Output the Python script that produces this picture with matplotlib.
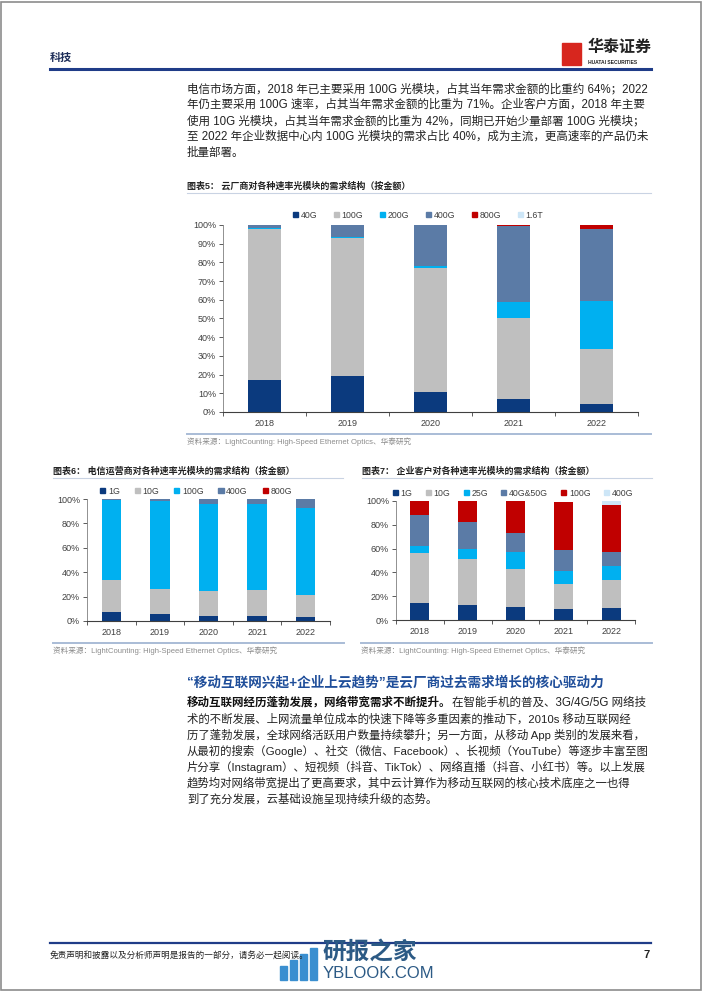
import numpy as np
import matplotlib
matplotlib.use("Agg")
import matplotlib.pyplot as plt
from matplotlib.patches import Patch, Rectangle

plt.rcParams['font.family'] = ['Liberation Sans', 'Noto Sans CJK SC', 'DejaVu Sans']

W, H = 702, 991
years = ['2018', '2019', '2020', '2021', '2022']

# chart 5: cloud vendors
cloud_labels = ['40G', '100G', '200G', '400G', '800G', '1.6T']
cloud_40g = [17, 19, 10.5, 7, 4.5]
cloud_100g = [81, 74, 66.5, 43.5, 29]
cloud_200g = [0.3, 0.5, 1, 8.5, 26]
cloud_400g = [1.7, 6.5, 22, 40.5, 38.5]
cloud_800g = [0, 0, 0, 0.5, 2]
cloud_16t = [0, 0, 0, 0, 0]

# chart 6: telecom operators
tel_labels = ['1G', '10G', '100G', '400G', '800G']
tel_1g = [7.5, 5.5, 3.8, 3.8, 3.5]
tel_10g = [26.5, 20.5, 21.2, 21.7, 18]
tel_100g = [65, 72, 71, 70.5, 71.5]
tel_400g = [1, 2, 4, 4, 7]
tel_800g = [0, 0, 0, 0, 0]

# chart 7: enterprise customers
ent_labels = ['1G', '10G', '25G', '40G&50G', '100G', '400G']
ent_1g = [14, 12.5, 11, 9, 10]
ent_10g = [42.5, 38.5, 31.5, 21.5, 23.5]
ent_25g = [6, 9, 15, 10.5, 12]
ent_40g50g = [26, 22.5, 16, 17.5, 11.5]
ent_100g = [11.5, 17.5, 26.5, 40.5, 40]
ent_400g = [0, 0, 0, 0.5, 3]

NAVY = '#0b3a7e'
GRAY = '#bfbfbf'
CYAN = '#00b0f0'
STEEL = '#5b7ba6'
RED = '#c00000'
PALE = '#cde6f7'

fig = plt.figure(figsize=(W / 100, H / 100), dpi=100)


def fx(x):
    return x / W


def fy(y):
    return 1 - y / H


def txt(x, y, s, size=8.5, **kw):
    kw.setdefault('va', 'center')
    kw.setdefault('ha', 'left')
    return fig.text(fx(x), fy(y), s, fontsize=size, **kw)


def hline(x0, x1, y, color, lw):
    fig.add_artist(plt.Line2D([fx(x0), fx(x1)], [fy(y), fy(y)], color=color, lw=lw))


def stacked(l, t, r, b, series, colors, labels, yticks, leg_x, leg_y, colsp):
    ax = fig.add_axes([fx(l), fy(b), fx(r - l), (b - t) / H])
    x = np.arange(len(years))
    bottom = np.zeros(len(years))
    for vals, c in zip(series, colors):
        ax.bar(x, vals, 0.4, bottom=bottom, color=c, linewidth=0)
        bottom += np.array(vals)
    ax.set_xlim(-0.5, len(years) - 0.5)
    ax.set_ylim(0, 100)
    ax.set_yticks(yticks)
    ax.set_yticklabels([f'{v}%' for v in yticks])
    ax.set_xticks(x)
    ax.set_xticklabels(years)
    ax.set_xticks(np.arange(-0.5, len(years)), minor=True)
    ax.tick_params(axis='x', which='major', length=0, labelsize=6.5, colors='#404040', pad=5)
    ax.tick_params(axis='x', which='minor', length=3, color='#404040', width=0.6)
    ax.tick_params(axis='y', length=3, width=0.6, labelsize=6.5, colors='#404040', pad=2)
    for s in ['top', 'right']:
        ax.spines[s].set_visible(False)
    ax.spines['left'].set_color('#7f7f7f')
    ax.spines['left'].set_linewidth(0.6)
    ax.spines['bottom'].set_color('#404040')
    ax.spines['bottom'].set_linewidth(0.8)
    ax.patch.set_alpha(0)
    handles = [Patch(color=c, label=lb) for c, lb in zip(colors, labels)]
    fig.legend(handles=handles, loc='center', bbox_to_anchor=(fx(leg_x), fy(leg_y)),
               ncol=len(labels), frameon=False, fontsize=6.3, handlelength=0.6,
               handleheight=0.6, handletextpad=0.3, columnspacing=colsp,
               labelcolor='#404040')
    return ax


# page frame
fig.add_artist(Rectangle((0.001, 0.001), 0.997, 0.997, transform=fig.transFigure,
                         fill=False, edgecolor='#8c8c8c', lw=1.2))

# header
txt(50, 58, '科技', size=8, fontweight='bold', color='#1f2f5a')
fig.add_artist(Rectangle((fx(562), fy(65)), fx(19), 22 / H, transform=fig.transFigure,
                         color='#d7261e'))
txt(588, 47, '华泰证券', size=11.5, fontweight='bold', color='#222222')
txt(588, 62, 'HUATAI SECURITIES', size=3.6, fontweight='bold', color='#222222')
hline(50, 651, 69.5, '#1f3c88', 2.2)

body1 = [
    '电信市场方面，2018 年已主要采用 100G 光模块，占其当年需求金额的比重约 64%；2022',
    '年仍主要采用 100G 速率，占其当年需求金额的比重为 71%。企业客户方面，2018 年主要',
    '使用 10G 光模块，占其当年需求金额的比重为 42%，同期已开始少量部署 100G 光模块；',
    '至 2022 年企业数据中心内 100G 光模块的需求占比 40%，成为主流，更高速率的产品仍未',
    '批量部署。',
]
for i, line in enumerate(body1):
    txt(187, 89 + i * 16, line, size=8.3, color='#222222')

src = '资料来源：LightCounting: High-Speed Ethernet Optics、华泰研究'

# chart 5
txt(187, 186, '图表5： 云厂商对各种速率光模块的需求结构（按金额）', size=6.5, fontweight='bold', color='#222222')
hline(187, 651, 193, '#c9d3e3', 0.8)
stacked(223, 225, 638, 412,
        [cloud_40g, cloud_100g, cloud_200g, cloud_400g, cloud_800g, cloud_16t],
        [NAVY, GRAY, CYAN, STEEL, RED, PALE], cloud_labels,
        list(range(0, 101, 10)), 418, 215, 1.9)
hline(187, 651, 433.5, '#a9bcd6', 1.4)
txt(187, 442, src, size=5.5, color='#8c8c8c')

# chart 6
txt(53, 471, '图表6： 电信运营商对各种速率光模块的需求结构（按金额）', size=6.5, fontweight='bold', color='#222222')
hline(53, 343, 478, '#c9d3e3', 0.8)
stacked(87, 499, 330, 621,
        [tel_1g, tel_10g, tel_100g, tel_400g, tel_800g],
        [NAVY, GRAY, CYAN, STEEL, RED], tel_labels,
        list(range(0, 101, 20)), 196, 491, 1.7)
hline(53, 344, 643, '#a9bcd6', 1.4)
txt(53, 651, src, size=5.5, color='#8c8c8c')

# chart 7
txt(362, 471, '图表7： 企业客户对各种速率光模块的需求结构（按金额）', size=6.5, fontweight='bold', color='#222222')
hline(362, 652, 478, '#c9d3e3', 0.8)
stacked(396, 501, 635, 620,
        [ent_1g, ent_10g, ent_25g, ent_40g50g, ent_100g, ent_400g],
        [NAVY, GRAY, CYAN, STEEL, RED, PALE], ent_labels,
        list(range(0, 101, 20)), 513, 493, 1.5)
hline(361, 652, 643, '#a9bcd6', 1.4)
txt(361, 651, src, size=5.5, color='#8c8c8c')

# section text
txt(187, 682, '“移动互联网兴起+企业上云趋势”是云厂商过去需求增长的核心驱动力', size=9.8,
    fontweight='bold', color='#1f4e9a')

t = txt(187, 703, '移动互联网经历蓬勃发展，网络带宽需求不断提升。', size=8.3,
        fontweight='bold', color='#111111')
fig.canvas.draw()
bb = t.get_window_extent()
txt(bb.x1, 703, '在智能手机的普及、3G/4G/5G 网络技', size=8.3, color='#222222')

body2 = [
    '术的不断发展、上网流量单位成本的快速下降等多重因素的推动下，2010s 移动互联网经',
    '历了蓬勃发展，全球网络活跃用户数量持续攀升；另一方面，从移动 App 类别的发展来看，',
    '从最初的搜索（Google）、社交（微信、Facebook）、长视频（YouTube）等逐步丰富至图',
    '片分享（Instagram）、短视频（抖音、TikTok）、网络直播（抖音、小红书）等。以上发展',
    '趋势均对网络带宽提出了更高要求，其中云计算作为移动互联网的核心技术底座之一也得',
    '到了充分发展，云基础设施呈现持续升级的态势。',
]
for i, line in enumerate(body2):
    txt(187, 719 + i * 16, line, size=8.2, color='#222222')

# footer
hline(50, 651, 943, '#1f3c88', 1.6)
txt(50, 955, '免责声明和披露以及分析师声明是报告的一部分，请务必一起阅读。', size=6.2,
    style='italic', color='#222222')
txt(650, 955, '7', size=8, fontweight='bold', ha='right', color='#222222')

# watermark
for i, h in enumerate([14, 20, 26, 32]):
    fig.add_artist(Rectangle((fx(280 + i * 10), fy(980)), fx(7), h / H,
                             transform=fig.transFigure, color='#3a8fd0'))
txt(322, 952, '研报之家', size=17, fontweight='bold', color='#2c5a85')
txt(323, 974, 'YBLOOK.COM', size=12, color='#2c5a85')

fig.savefig('out.png', dpi=100)
